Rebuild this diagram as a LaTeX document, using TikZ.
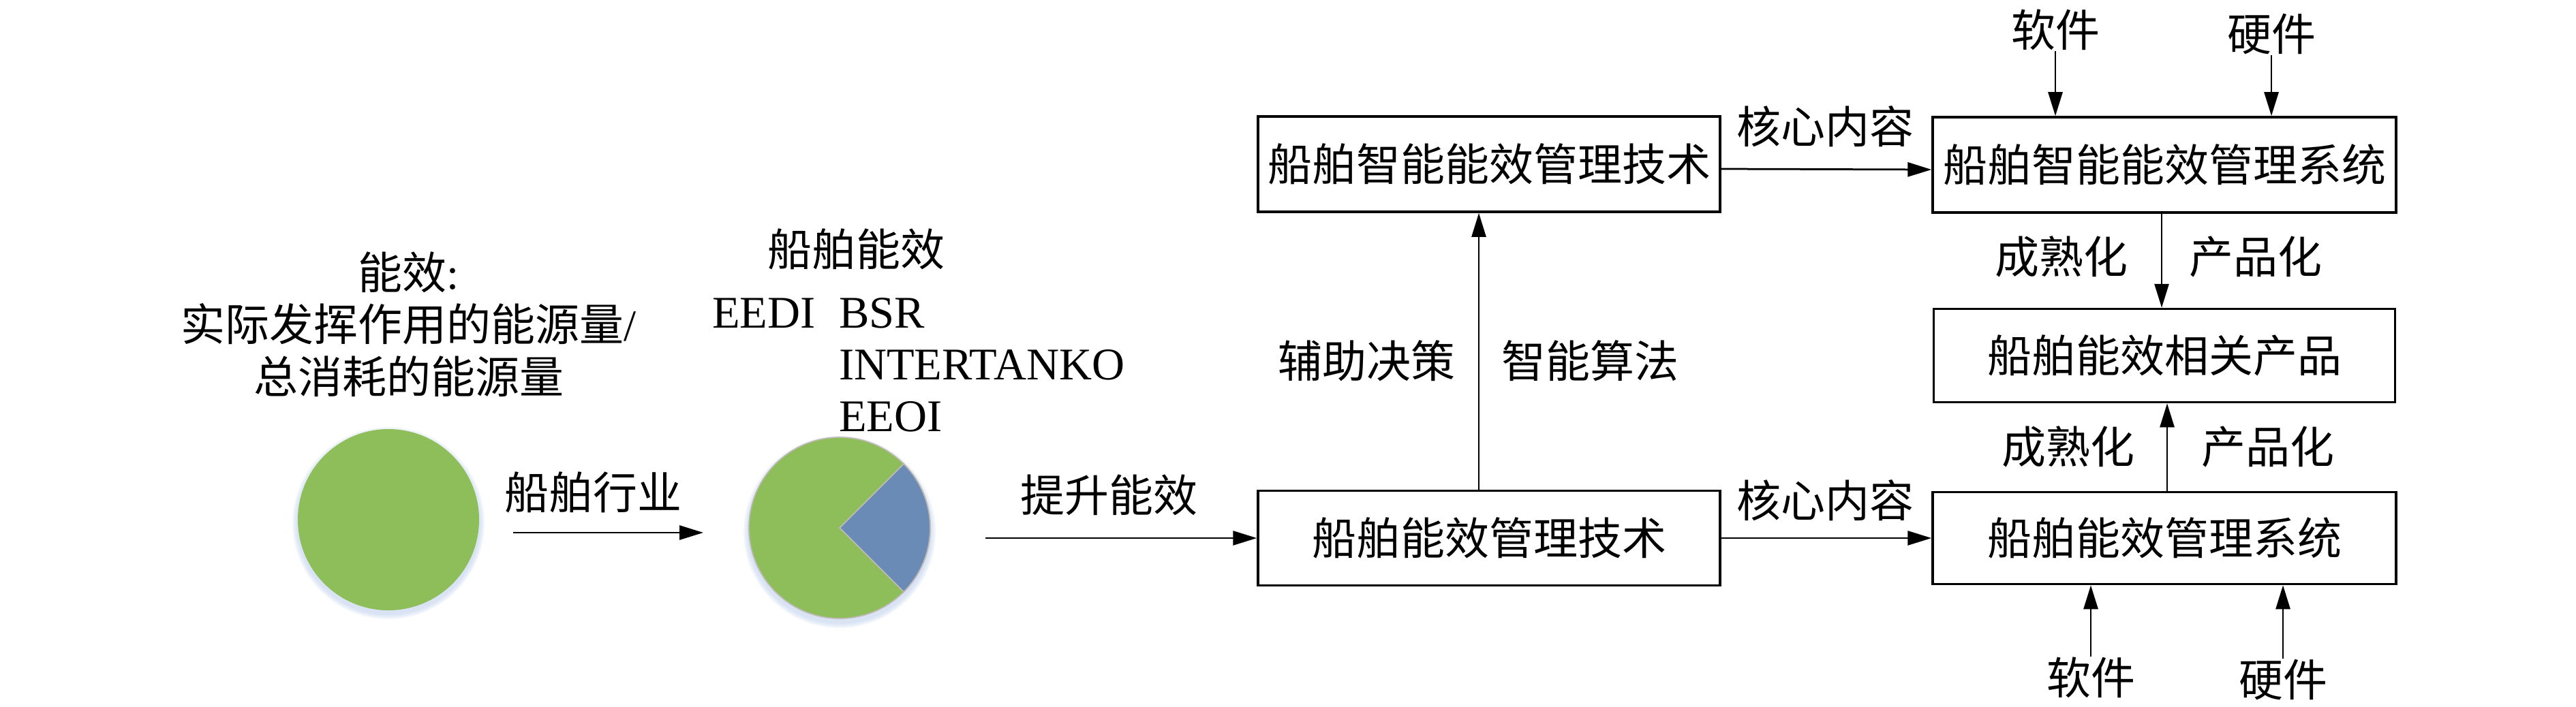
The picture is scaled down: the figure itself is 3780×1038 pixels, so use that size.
\documentclass[tikz,border=0pt]{standalone}
\usepackage{fontspec}
\setmainfont{Liberation Serif}
\newfontfamily\cjk{Noto Sans CJK SC}
\usetikzlibrary{arrows.meta}
\definecolor{piegreen}{RGB}{141,190,90}
\definecolor{pieblue}{RGB}{106,139,181}
\definecolor{piegray}{RGB}{192,186,182}
\definecolor{shadeblue}{RGB}{165,190,228}
\begin{document}
\begin{tikzpicture}[x=0.2pt,y=-0.2pt,
  box/.style={draw, line width=0.7pt, inner sep=0pt, font=\cjk\fontsize{13pt}{15.3pt}\selectfont},
  lbl/.style={inner sep=0pt, font=\cjk\fontsize{13pt}{15.3pt}\selectfont},
  lat/.style={inner sep=0pt, font=\fontsize{13.3pt}{15.3pt}\selectfont},
  txt/.style={inner sep=0pt, font=\fontsize{13pt}{15.3pt}\selectfont},
  arr/.style={line width=0.55pt, -{Triangle[length=7pt,width=4.2pt]}},
  thinarr/.style={line width=0.45pt, -{Triangle[length=7pt,width=4.2pt]}},
  disc/.style={circle, fill=piegreen, minimum size=53.2pt, inner sep=0pt},
  shade/.style={fill=shadeblue, opacity=0.13}
]
\path[use as bounding box] (0,0) rectangle (3780,1038);

% definition text
\node[txt, align=center] (def) at (600,476) {{\cjk 能效}:\\{\cjk 实际发挥作用的能源量}/\\{\cjk 总消耗的能源量}};

% green disc with soft shadow
\foreach \r in {27.0pt,27.4pt,27.8pt,28.2pt}{
  \fill[shade] (570,768) circle[radius=\r];
}
\node[disc] (whole) at (570,763) {};

\node[lbl] (hangye) at (870,723) {船舶行业};
\coordinate (a1s) at (753,782);
\coordinate (a1e) at (1032,782);
\draw[arr] (a1s) -- (a1e);

% pie chart
\foreach \r in {27.0pt,27.4pt,27.8pt,28.2pt}{
  \fill[shade] (1232,781) circle[radius=\r];
}
\node[disc, draw=piegray, line width=0.35pt] (pie) at (1232,775) {};
\filldraw[fill=pieblue, draw=piegray, line width=0.35pt] (pie.center) -- ++(45:26.6pt) arc[start angle=45, end angle=-45, radius=26.6pt] -- cycle;

\node[lbl] (chuanneng) at (1256,366) {船舶能效};
\node[lat, anchor=west] (eedi) at (1044,460) {EEDI};
\node[lat, anchor=west] (bsr) at (1230,460) {BSR};
\node[lat, anchor=west] (intk) at (1230,536) {INTERTANKO};
\node[lat, anchor=west] (eeoi) at (1230,612) {EEOI};

% boxes
\node[box, minimum width=135.6pt, minimum height=27.8pt] (tech1) at (2185,790) {船舶能效管理技术};
\node[box, minimum width=135.6pt, minimum height=28pt] (tech2) at (2185,241) {船舶智能能效管理技术};
\node[box, minimum width=136pt, minimum height=28pt] (sys2) at (3176,242) {船舶智能能效管理系统};
\node[box, minimum width=135.4pt, minimum height=27.4pt] (prod) at (3176,522) {船舶能效相关产品};
\node[box, minimum width=136pt, minimum height=27pt] (sys1) at (3176,790) {船舶能效管理系统};

\node[lbl] (tisheng) at (1627,727) {提升能效};
\coordinate (a2s) at (1446,790);
\draw[arr] (a2s) -- (tech1.west);

% connectors between boxes
\draw[arr] (tech1.east) -- (sys1.west);
\node[lbl] (core1) at (2678,735) {核心内容};
\draw[arr] ([yshift=-1.4pt]tech2.east) -- ([yshift=-1.4pt]sys2.west);
\node[lbl] (core2) at (2678,186) {核心内容};

\draw[thinarr] ([xshift=-3pt]tech1.north) -- ([xshift=-3pt]tech2.south);
\node[lbl] (fuzhu) at (2005,530) {辅助决策};
\node[lbl] (suanfa) at (2333,530) {智能算法};

\draw[arr] ([xshift=-0.8pt]sys2.south) -- ([xshift=-0.8pt]prod.north);
\node[lbl] (cs2) at (3025,377) {成熟化};
\node[lbl] (cp2) at (3310,377) {产品化};

\draw[arr] ([xshift=0.8pt]sys1.north) -- ([xshift=0.8pt]prod.south);
\node[lbl] (cs1) at (3035,656) {成熟化};
\node[lbl] (cp1) at (3328,656) {产品化};

% software / hardware
\node[lbl] (sw2) at (3016,44) {软件};
\node[lbl] (hw2) at (3333,50) {硬件};
\draw[arr] (sw2.south) -- (sw2.south |- sys2.north);
\draw[arr] (hw2.south) -- (hw2.south |- sys2.north);

\node[lbl] (sw1) at (3068,995) {软件};
\node[lbl] (hw1) at (3350,998) {硬件};
\draw[arr] (sw1.north) -- (sw1.north |- sys1.south);
\draw[arr] (hw1.north) -- (hw1.north |- sys1.south);
\end{tikzpicture}
\end{document}
